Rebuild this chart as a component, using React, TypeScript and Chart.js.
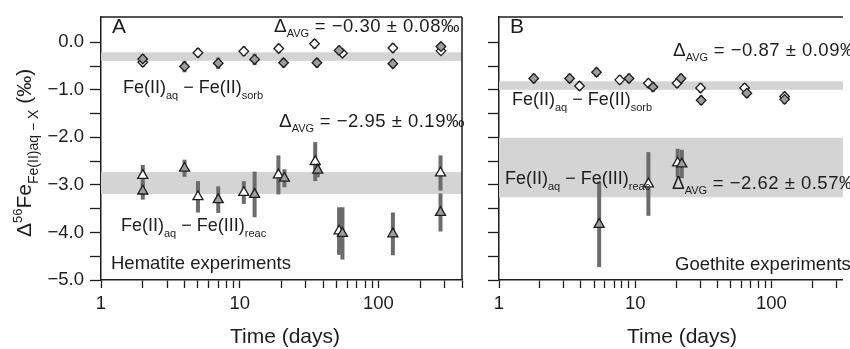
import React, { useEffect, useRef } from 'react';
import { Chart, registerables } from 'chart.js';
Chart.register(...registerables);

type Pt = [number, number, number]; // [time (days), delta, error]

// ---------- Panel A : Hematite ----------
const hemSorbGray: Pt[] = [
  [2, -0.35, 0.1], [4, -0.51, 0.12], [7, -0.44, 0.12], [12.8, -0.36, 0.12],
  [20.7, -0.43, 0.1], [36, -0.43, 0.1], [52, -0.17, 0.1], [127, -0.45, 0.1], [282, -0.09, 0.08],
];
const hemSorbWhite: Pt[] = [
  [2, -0.42, 0.1], [5, -0.22, 0.1], [10.7, -0.19, 0.1], [19.1, -0.13, 0.1],
  [34.6, -0.03, 0.1], [55, -0.23, 0.08], [127, -0.12, 0.1], [282, -0.18, 0.08],
];
const hemReacWhite: Pt[] = [
  [2, -2.8, 0.22], [5, -3.25, 0.33], [10.7, -3.16, 0.24], [19, -2.79, 0.41],
  [35, -2.51, 0.41], [52, -3.97, 0.5], [280, -2.75, 0.37],
];
const hemReacGray: Pt[] = [
  [2, -3.13, 0.18], [4, -2.65, 0.18], [7, -3.31, 0.28], [12.8, -3.2, 0.48], [21, -2.86, 0.19],
  [36.5, -2.69, 0.15], [55, -4.02, 0.55], [127, -4.03, 0.45], [280, -3.58, 0.4],
];
const hemSorbBand: [number, number] = [-0.21, -0.39];
const hemReacBand: [number, number] = [-2.73, -3.19];

// ---------- Panel B : Goethite ----------
const goeSorbGray: Pt[] = [
  [1.8, -0.76, 0.1], [3.3, -0.76, 0.1], [5.2, -0.63, 0.1], [9, -0.76, 0.1], [13.5, -0.94, 0.1],
  [21.7, -0.76, 0.1], [30.5, -1.22, 0.1], [66, -1.07, 0.1], [125, -1.2, 0.1],
];
const goeSorbWhite: Pt[] = [
  [3.9, -0.92, 0.1], [7.7, -0.79, 0.1], [12.5, -0.86, 0.1], [20.3, -0.86, 0.1],
  [30.2, -0.96, 0.1], [63.6, -0.96, 0.1], [125, -1.14, 0.1],
];
const goeReacWhite: Pt[] = [[12.5, -2.98, 0.67], [20.5, -2.54, 0.3]];
const goeReacGray: Pt[] = [[5.44, -3.83, 0.9], [22, -2.56, 0.3]];
const goeSorbBand: [number, number] = [-0.82, -1.0];
const goeReacBand: [number, number] = [-2.01, -3.26];

// ---------- Axes ----------
const yTickValues = [-5, -4.5, -4, -3.5, -3, -2.5, -2, -1.5, -1, -0.5, 0];
const xTickValues = [1, 2, 3, 4, 5, 6, 7, 8, 9, 10, 20, 30, 40, 50, 60, 70, 80, 90, 100, 200, 300, 400];
const xLabelled = [1, 10, 100];
const yMin = -5;
const yMax = 0.53;

const FAMILY = '"Liberation Sans", Arial, Helvetica, sans-serif';
const INK = '#1d1d1d';
const BAND = '#d4d4d4';
const ERR = '#6c6c6c';
const GRAYFILL = '#9d9d9d';
const f = (s: number) => `${s}px ${FAMILY}`;

type Seg = { t: string; s: number; dy?: number; ls?: number };
function drawRich(ctx: CanvasRenderingContext2D, x: number, y: number, segs: Seg[]) {
  let cx = x;
  for (const g of segs) {
    ctx.font = f(g.s);
    (ctx as any).letterSpacing = (g.ls || 0) + 'px';
    ctx.fillText(g.t, cx, y + (g.dy || 0));
    cx += ctx.measureText(g.t).width;
  }
  (ctx as any).letterSpacing = '0px';
}
const avgSegs = (v: string): Seg[] => [
  { t: 'Δ', s: 19 }, { t: 'AVG', s: 11, dy: 5 }, { t: ' = ' + v, s: 18.5, ls: 0.5 },
];
const sorbSegs: Seg[] = [
  { t: 'Fe(II)', s: 18 }, { t: 'aq', s: 11, dy: 6 }, { t: ' − Fe(II)', s: 18 }, { t: 'sorb', s: 11, dy: 6 },
];
const reacSegs: Seg[] = [
  { t: 'Fe(II)', s: 18 }, { t: 'aq', s: 11, dy: 6 }, { t: ' − Fe(III)', s: 18 }, { t: 'reac', s: 11, dy: 6 },
];

interface Spec {
  width: number; left: number; xMax: number; yWidth: number; padRight: number;
  yLabels: boolean; drawRight: boolean; xTitleX: number;
  sorbWhite: Pt[]; sorbGray: Pt[]; reacWhite: Pt[]; reacGray: Pt[];
  sorbBand: [number, number]; reacBand: [number, number];
  texts: (ctx: CanvasRenderingContext2D) => void;
}

const specA: Spec = {
  width: 480, left: 0, xMax: 400, yWidth: 101, padRight: 18, yLabels: true, drawRight: true, xTitleX: 285,
  sorbWhite: hemSorbWhite, sorbGray: hemSorbGray, reacWhite: hemReacWhite, reacGray: hemReacGray,
  sorbBand: hemSorbBand, reacBand: hemReacBand,
  texts: (ctx) => {
    ctx.font = f(21); ctx.fillText('A', 112, 33);
    drawRich(ctx, 274, 32, avgSegs('−0.30 ± 0.08‰'));
    drawRich(ctx, 123, 93, sorbSegs);
    drawRich(ctx, 279, 127, avgSegs('−2.95 ± 0.19‰'));
    drawRich(ctx, 121, 231, reacSegs);
    ctx.font = f(18.5); ctx.fillText('Hematite experiments', 111, 269);
    // y axis title
    ctx.save();
    ctx.translate(31, 237);
    ctx.rotate(-Math.PI / 2);
    drawRich(ctx, 0, 0, [
      { t: 'Δ', s: 21 }, { t: '56', s: 13, dy: -9 }, { t: 'Fe', s: 21 },
      { t: 'Fe(II)aq − X', s: 14, dy: 7 }, { t: ' (‰)', s: 21 },
    ]);
    ctx.restore();
  },
};

const specB: Spec = {
  width: 370, left: 480, xMax: 335, yWidth: 19, padRight: 0, yLabels: false, drawRight: false, xTitleX: 202,
  sorbWhite: goeSorbWhite, sorbGray: goeSorbGray, reacWhite: goeReacWhite, reacGray: goeReacGray,
  sorbBand: goeSorbBand, reacBand: goeReacBand,
  texts: (ctx) => {
    ctx.font = f(21); ctx.fillText('B', 30, 33);
    drawRich(ctx, 193, 56, avgSegs('−0.87 ± 0.09‰'));
    drawRich(ctx, 32, 105, sorbSegs);
    drawRich(ctx, 25, 184, reacSegs);
    drawRich(ctx, 192, 189, avgSegs('−2.62 ± 0.57‰'));
    ctx.font = f(18.5); ctx.fillText('Goethite experiments', 195, 270);
  },
};

function makeConfig(spec: Spec): any {
  const ds = (pts: Pt[], style: string, r: number, fill: string) => ({
    data: pts.map((p) => ({ x: p[0], y: p[1] })),
    pointStyle: style, pointRadius: r, backgroundColor: fill, borderColor: INK,
    borderWidth: 1.3, showLine: false,
  });
  const allErr: { pts: Pt[] }[] = [
    { pts: spec.sorbGray }, { pts: spec.sorbWhite }, { pts: spec.reacGray }, { pts: spec.reacWhite },
  ];
  const decor = {
    id: 'decor',
    beforeDatasetsDraw(chart: any) {
      const { ctx, chartArea: a, scales } = chart;
      const xs = scales.x, ys = scales.y;
      ctx.save();
      ctx.beginPath(); ctx.rect(a.left, a.top, a.right - a.left, a.bottom - a.top); ctx.clip();
      ctx.fillStyle = BAND;
      for (const b of [spec.sorbBand, spec.reacBand]) {
        const y1 = ys.getPixelForValue(b[0]), y2 = ys.getPixelForValue(b[1]);
        ctx.fillRect(a.left, y1, a.right - a.left, y2 - y1);
      }
      ctx.fillStyle = ERR;
      for (const g of allErr) {
        for (const p of g.pts) {
          const x = xs.getPixelForValue(p[0]);
          const y1 = ys.getPixelForValue(p[1] + p[2]), y2 = ys.getPixelForValue(p[1] - p[2]);
          ctx.fillRect(x - 2, y1, 4, y2 - y1);
        }
      }
      ctx.restore();
    },
    afterDraw(chart: any) {
      const { ctx, chartArea: a } = chart;
      ctx.save();
      ctx.strokeStyle = INK; ctx.lineWidth = 1.5;
      ctx.beginPath();
      ctx.moveTo(a.left, a.top); ctx.lineTo(a.right, a.top);
      if (spec.drawRight) { ctx.moveTo(a.right, a.top); ctx.lineTo(a.right, a.bottom); }
      ctx.stroke();
      ctx.fillStyle = INK;
      ctx.textBaseline = 'alphabetic';
      ctx.textAlign = 'left';
      spec.texts(ctx);
      ctx.font = f(21); ctx.textAlign = 'center';
      ctx.fillText('Time (days)', spec.xTitleX, 343);
      ctx.restore();
    },
  };
  return {
    type: 'scatter',
    data: {
      datasets: [
        ds(spec.sorbGray, 'rectRot', 4.8, GRAYFILL),
        ds(spec.sorbWhite, 'rectRot', 4.8, '#ffffff'),
        ds(spec.reacGray, 'triangle', 5.8, GRAYFILL),
        ds(spec.reacWhite, 'triangle', 5.8, '#ffffff'),
      ],
    },
    options: {
      responsive: false, animation: false, events: [],
      layout: { padding: { left: 0, right: spec.padRight, top: 12, bottom: 0 } },
      plugins: { legend: { display: false }, tooltip: { enabled: false } },
      scales: {
        x: {
          type: 'logarithmic', min: 1, max: spec.xMax,
          afterBuildTicks: (s: any) => { s.ticks = xTickValues.filter((v) => v <= spec.xMax).map((v) => ({ value: v })); },
          afterFit: (s: any) => { s.height = 69; },
          ticks: {
            autoSkip: false, maxRotation: 0, minRotation: 0, padding: 5, color: INK,
            font: { family: FAMILY, size: 18.5 },
            callback: (v: any) => (xLabelled.includes(Number(v)) ? String(v) : ''),
          },
          grid: { drawOnChartArea: false, drawTicks: true, tickLength: 8, tickColor: INK, tickWidth: 1.3 },
          border: { display: true, color: INK, width: 1.5 },
        },
        y: {
          type: 'linear', min: yMin, max: yMax,
          afterBuildTicks: (s: any) => { s.ticks = yTickValues.map((v) => ({ value: v })); },
          afterFit: (s: any) => { s.width = spec.yWidth; },
          ticks: {
            padding: 6, color: INK, font: { family: FAMILY, size: 18.5 },
            callback: (v: any) => {
              const n = Number(v);
              if (!spec.yLabels || Math.abs(n - Math.round(n)) > 1e-9) return '';
              return n === 0 ? '0.0' : '−' + Math.abs(n).toFixed(1);
            },
          },
          grid: { drawOnChartArea: false, drawTicks: true, tickLength: 11, tickColor: INK, tickWidth: 1.3 },
          border: { display: true, color: INK, width: 1.5 },
        },
      },
    },
    plugins: [decor],
  };
}

function Panel({ spec }: { spec: Spec }) {
  const ref = useRef<HTMLCanvasElement | null>(null);
  useEffect(() => {
    if (!ref.current) return;
    const chart = new Chart(ref.current, makeConfig(spec));
    return () => chart.destroy();
  }, [spec]);
  return (
    <canvas
      ref={ref}
      width={spec.width}
      height={349}
      style={{ position: 'absolute', left: spec.left, top: 0, width: spec.width, height: 349, display: 'block' }}
    />
  );
}

export default function App() {
  return (
    <div style={{ position: 'absolute', left: 0, top: 0, width: 850, height: 349, overflow: 'hidden', background: '#fff' }}>
      <Panel spec={specA} />
      <Panel spec={specB} />
    </div>
  );
}
